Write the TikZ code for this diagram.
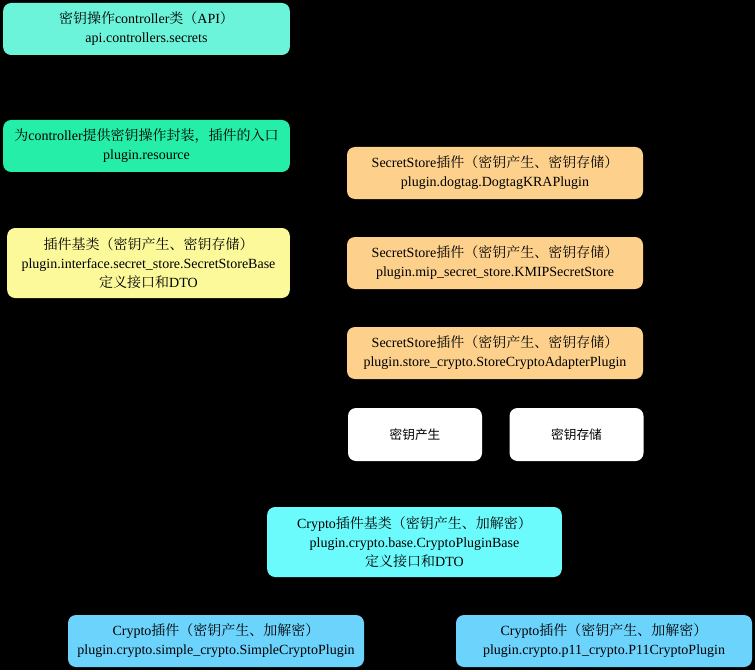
\documentclass[tikz,border=0pt]{standalone}
\usepackage{fontspec}
\setmainfont{Liberation Serif}
\newfontfamily\cjk{Noto Serif CJK SC}
\newfontfamily\cjksans{Noto Sans CJK SC}
\usetikzlibrary{positioning}
\definecolor{ApiMint}{HTML}{6CF4DA}
\definecolor{ResGreen}{HTML}{24EEA8}
\definecolor{BaseYellow}{HTML}{FBF99A}
\definecolor{StoreOrange}{HTML}{FDD18C}
\definecolor{CryptoCyan}{HTML}{6CFBFC}
\definecolor{PluginBlue}{HTML}{6CD3FD}

\begin{document}
\begin{tikzpicture}[x=0.75pt, y=-0.75pt,
    box/.style={rounded corners=6pt, align=center, inner sep=2pt,
        font=\fontsize{10.5}{14.2}\selectfont, minimum width=222pt, minimum height=39pt},
    tallbox/.style={box, minimum height=52.5pt}]
    % background
    \fill[black] (0,0) rectangle (755,670);
    \useasboundingbox (0,0) rectangle (755,670);

    % API and resource layer
    \node[box, fill=ApiMint, minimum width=215pt] (api) at (146.5,29)
        {{\cjk 密钥操作}controller{\cjk 类（}API{\cjk ）}\\api.controllers.secrets};
    \node[box, fill=ResGreen, minimum width=215pt] (resource) at (146.5,146)
        {{\cjk 为}controller{\cjk 提供密钥操作封装，插件的入口}\\plugin.resource};
    \node[tallbox, fill=BaseYellow, minimum width=212pt] (storebase) at (148.5,263)
        {{\cjk 插件基类（密钥产生、密钥存储）}\\plugin.interface.secret\_store.SecretStoreBase\\{\cjk 定义接口和}DTO};

    % secret store plugins
    \node[box, fill=StoreOrange] (dogtag) at (495,173)
        {SecretStore{\cjk 插件（密钥产生、密钥存储）}\\plugin.dogtag.DogtagKRAPlugin};
    \node[box, fill=StoreOrange] (kmip) at (495,263)
        {SecretStore{\cjk 插件（密钥产生、密钥存储）}\\plugin.mip\_secret\_store.KMIPSecretStore};
    \node[box, fill=StoreOrange] (adapter) at (495,353)
        {SecretStore{\cjk 插件（密钥产生、密钥存储）}\\plugin.store\_crypto.StoreCryptoAdapterPlugin};

    % adapter functions
    \node[box, fill=white, minimum width=100.5pt, minimum height=39.75pt,
        font=\cjksans\fontsize{9.5}{12}\selectfont] (gen) at (415,434.5) {密钥产生};
    \node[box, fill=white, minimum width=100.5pt, minimum height=39.75pt,
        font=\cjksans\fontsize{9.5}{12}\selectfont] (save) at (576.5,434.5) {密钥存储};

    % crypto plugins
    \node[tallbox, fill=CryptoCyan, minimum width=221pt] (cryptobase) at (414.5,542)
        {Crypto{\cjk 插件基类（密钥产生、加解密）}\\plugin.crypto.base.CryptoPluginBase\\{\cjk 定义接口和}DTO};
    \node[box, fill=PluginBlue] (simple) at (216,641)
        {Crypto{\cjk 插件（密钥产生、加解密）}\\plugin.crypto.simple\_crypto.SimpleCryptoPlugin};
    \node[box, fill=PluginBlue] (pkcs) at (604,641)
        {Crypto{\cjk 插件（密钥产生、加解密）}\\plugin.crypto.p11\_crypto.P11CryptoPlugin};
\end{tikzpicture}
\end{document}
